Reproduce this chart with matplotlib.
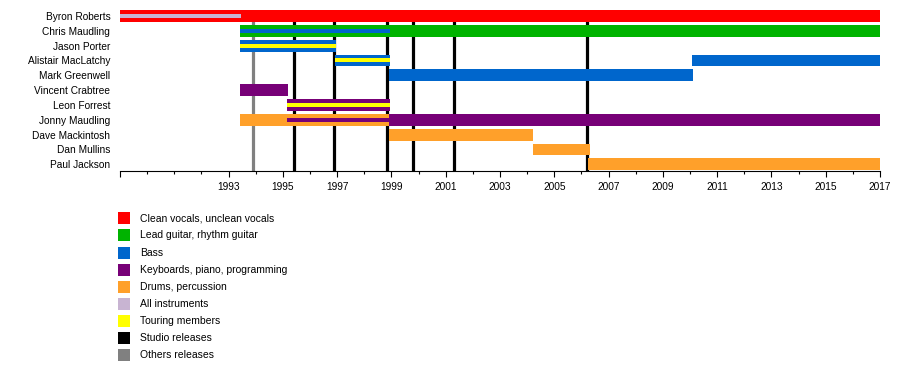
import matplotlib
matplotlib.use("Agg")
import matplotlib.pyplot as plt
from matplotlib.patches import Rectangle

plt.rcParams['font.family'] = ['Liberation Sans', 'DejaVu Sans']

members = ["Byron Roberts", "Chris Maudling", "Jason Porter", "Alistair MacLatchy",
           "Mark Greenwell", "Vincent Crabtree", "Leon Forrest", "Jonny Maudling",
           "Dave Mackintosh", "Dan Mullins", "Paul Jackson"]

role_names = ["Clean vocals, unclean vocals", "Lead guitar, rhythm guitar", "Bass",
              "Keyboards, piano, programming", "Drums, percussion", "All instruments",
              "Touring members", "Studio releases", "Others releases"]
role_colors = ["#ff0000", "#00b300", "#0066cc", "#770077", "#ffa02a", "#c8b4d2",
               "#ffff00", "#000000", "#808080"]
color = dict(zip(role_names, role_colors))

# main bars: member, start, end, role
main_members = ["Byron Roberts", "Chris Maudling", "Jason Porter", "Alistair MacLatchy",
                "Alistair MacLatchy", "Mark Greenwell", "Vincent Crabtree", "Leon Forrest",
                "Jonny Maudling", "Jonny Maudling", "Dave Mackintosh", "Dan Mullins",
                "Paul Jackson"]
main_start = [1989.0, 1993.42, 1993.42, 1996.92, 2010.08, 1998.9, 1993.42, 1995.15,
              1993.42, 1998.9, 1998.9, 2004.2, 2006.25]
main_end = [2017.0, 2017.0, 1996.96, 1998.95, 2017.0, 2010.1, 1995.19, 1998.95,
            1998.9, 2017.0, 2004.2, 2006.3, 2017.0]
main_roles = ["Clean vocals, unclean vocals", "Lead guitar, rhythm guitar", "Bass", "Bass",
              "Bass", "Bass", "Keyboards, piano, programming", "Keyboards, piano, programming",
              "Drums, percussion", "Keyboards, piano, programming", "Drums, percussion",
              "Drums, percussion", "Drums, percussion"]

# inner (secondary) bars
inner_members = ["Byron Roberts", "Chris Maudling", "Jason Porter", "Alistair MacLatchy",
                 "Leon Forrest", "Jonny Maudling"]
inner_start = [1989.0, 1993.42, 1993.42, 1996.92, 1995.15, 1995.15]
inner_end = [1993.46, 1998.95, 1996.96, 1998.95, 1998.95, 1998.9]
inner_roles = ["All instruments", "Bass", "Touring members", "Touring members",
               "Touring members", "Keyboards, piano, programming"]

studio_releases = [1995.4, 1996.9, 1998.85, 1999.8, 2001.3, 2006.2]
other_releases = [1993.9]

x_start, x_end = 1989, 2017
major_ticks = [1989] + list(range(1993, 2018, 2))
major_labels = [""] + [str(y) for y in range(1993, 2018, 2)]

W, H = 900, 370
fig = plt.figure(figsize=(W / 100, H / 100), dpi=100)
ax = fig.add_axes([120 / W, (H - 171) / H, 760 / W, 161 / H])

ypos = {m: i for i, m in enumerate(members)}

for x in other_releases:
    ax.axvline(x, color=color["Others releases"], lw=2.3, zorder=1)
for x in studio_releases:
    ax.axvline(x, color=color["Studio releases"], lw=2.3, zorder=1)

for m, s, e, r in zip(main_members, main_start, main_end, main_roles):
    ax.barh(ypos[m], e - s, left=s, height=0.8, color=color[r], zorder=2, linewidth=0)
for m, s, e, r in zip(inner_members, inner_start, inner_end, inner_roles):
    ax.barh(ypos[m], e - s, left=s, height=0.27, color=color[r], zorder=3, linewidth=0)

ax.set_xlim(x_start, x_end)
ax.set_ylim(len(members) - 1 + 0.45, -0.4)
ax.set_yticks(range(len(members)))
ax.set_yticklabels(members, fontsize=7.3)
ax.tick_params(axis='y', length=0, pad=7)
ax.set_xticks(major_ticks)
ax.set_xticklabels(major_labels, fontsize=7.3)
ax.set_xticks(range(x_start, x_end + 1), minor=True)
ax.tick_params(axis='x', which='major', length=4, width=0.8, pad=4)
ax.tick_params(axis='x', which='minor', length=2, width=0.8)
for sp in ["top", "left", "right"]:
    ax.spines[sp].set_visible(False)
ax.spines["bottom"].set_linewidth(0.8)

# legend
for i, (name, c) in enumerate(zip(role_names, role_colors)):
    yc = 218.3 + i * 17.1
    fig.patches.append(Rectangle((118 / W, (H - yc - 6) / H), 12 / W, 12 / H,
                                 transform=fig.transFigure, color=c, linewidth=0))
    fig.text(140 / W, (H - yc) / H, name, fontsize=7.5, va='center', ha='left')

fig.savefig("out.png", dpi=100)
